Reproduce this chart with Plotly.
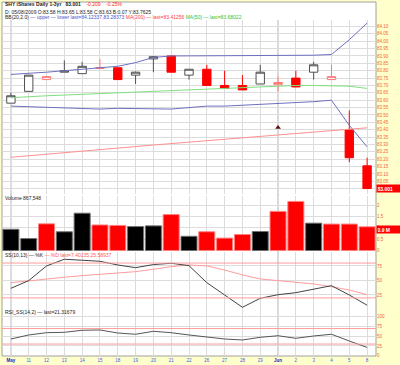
import plotly.graph_objects as go

# ---------------- data ----------------
day_labels = ["May", "11", "12", "13", "14", "15", "18", "19", "20", "21", "22",
              "26", "27", "28", "29", "Jun", "2", "3", "4", "5", "8"]

opens  = [83.58, 83.66, 83.74, 83.79, 83.78, 83.815, 83.82, 83.77, 83.88, 83.90, 83.77,
          83.81, 83.70, 83.70, 83.71, 83.705, 83.75, 83.79, 83.74, 83.40, 83.155]
highs  = [83.65, 83.77, 83.765, 83.87, 83.86, 83.88, 83.82, 83.795, 83.90, 83.90, 83.81,
          83.84, 83.80, 83.77, 83.84, 83.76, 83.80, 83.86, 83.84, 83.53, 83.21]
lows   = [83.58, 83.66, 83.74, 83.79, 83.78, 83.81, 83.74, 83.71, 83.79, 83.79, 83.74,
          83.70, 83.68, 83.67, 83.71, 83.66, 83.69, 83.74, 83.74, 83.18, 83.00]
closes = [83.63, 83.77, 83.76, 83.80, 83.83, 83.82, 83.74, 83.79, 83.895, 83.79, 83.81,
          83.70, 83.68, 83.67, 83.79, 83.72, 83.69, 83.84, 83.76, 83.21, 83.001]

bb_upper = [83.775, 83.78, 83.79, 83.80, 83.81, 83.82, 83.83, 83.855, 83.89, 83.90, 83.90,
            83.90, 83.90, 83.90, 83.90, 83.90, 83.90, 83.905, 83.91, 84.01, 84.123]
bb_lower = [83.56, 83.555, 83.55, 83.545, 83.54, 83.54, 83.545, 83.545, 83.54, 83.54, 83.55,
            83.56, 83.56, 83.565, 83.57, 83.575, 83.58, 83.59, 83.60, 83.43, 83.284]
ma50     = [83.617, 83.625, 83.63, 83.635, 83.64, 83.645, 83.65, 83.655, 83.66, 83.665, 83.672,
            83.68, 83.685, 83.69, 83.695, 83.697, 83.70, 83.70, 83.70, 83.695, 83.68]
ma200    = [83.213, 83.224, 83.235, 83.246, 83.256, 83.266, 83.276, 83.286, 83.296, 83.306, 83.316,
            83.326, 83.336, 83.346, 83.356, 83.366, 83.376, 83.386, 83.396, 83.405, 83.413]

marker_day = [15]
marker_price = [83.415]

volume_m = [0.94, 0.53, 1.18, 0.83, 1.65, 1.13, 1.11, 1.06, 1.09, 1.59, 0.63,
            0.83, 0.55, 0.71, 0.84, 1.73, 2.17, 1.21, 1.17, 1.17, 1.05]
volume_tag_level = 0.94

stoch_k = [36.5, 49.7, 75.0, 86.5, 84.8, 83.0, 76.7, 72.0, 77.3, 79.6, 75.5,
           46.2, 25.0, 3.8, 19.3, 25.5, 29.0, 35.3, 41.0, 25.0, 7.4]
stoch_d = [46.2, 49.7, 52.0, 55.5, 58.3, 60.7, 62.4, 65.2, 69.3, 73.8, 76.7,
           75.0, 68.0, 59.5, 52.6, 49.7, 48.0, 44.0, 39.3, 33.6, 25.6]
rsi = [43.0, 53.4, 59.3, 60.3, 65.5, 66.3, 58.5, 55.2, 62.9, 59.3, 53.4,
       48.2, 43.0, 40.5, 47.4, 51.5, 44.8, 50.8, 55.2, 37.9, 21.3]

price_ticks = [83.00 + 0.05 * k for k in range(23)]
price_tick_text = [""] + ["%.2f" % v for v in price_ticks[1:]]
vol_ticks = [0, 0.5, 1, 1.5, 2]
vol_tick_text = ["0", "0.5", "1", "1.5", "2"]
osc_ticks = [25, 50, 75]
rsi_ticks = [0, 25, 50, 75, 100]

# ---------------- styling ----------------
FONT = "Liberation Sans, Arial, sans-serif"
AXIS_COL = "#F0663C"
GRID = "#DCDCDC"
RED = "#FF0000"
PINK = "#FF7A7A"
DARK = "#505050"
BB_COL = "#6F6FC0"

idx = list(range(len(day_labels)))

fig = go.Figure()

# candle groups
prev = [None] + closes[:-1]
groups = {}
for i in idx:
    hollow = closes[i] >= opens[i]
    up = prev[i] is None or closes[i] >= prev[i]
    groups.setdefault((hollow, up), []).append(i)

for (hollow, up), members in groups.items():
    col = DARK if up else (PINK if hollow else RED)
    fill = "white" if hollow else (RED if not up else "#000000")
    fig.add_trace(go.Candlestick(
        x=members,
        open=[opens[i] for i in members], high=[highs[i] for i in members],
        low=[lows[i] for i in members], close=[closes[i] for i in members],
        increasing=dict(line=dict(color=col, width=1), fillcolor=fill),
        decreasing=dict(line=dict(color=col, width=1), fillcolor=fill),
        whiskerwidth=0, showlegend=False, hoverinfo="skip", xaxis="x", yaxis="y"))

fig.add_trace(go.Scatter(x=idx, y=bb_upper, mode="lines", line=dict(color=BB_COL, width=1),
                         showlegend=False, xaxis="x", yaxis="y"))
fig.add_trace(go.Scatter(x=idx, y=bb_lower, mode="lines", line=dict(color=BB_COL, width=1),
                         showlegend=False, xaxis="x", yaxis="y"))
fig.add_trace(go.Scatter(x=idx, y=ma50, mode="lines", line=dict(color="#7FE07F", width=1),
                         showlegend=False, xaxis="x", yaxis="y"))
fig.add_trace(go.Scatter(x=idx, y=ma200, mode="lines", line=dict(color="#FF9090", width=1),
                         showlegend=False, xaxis="x", yaxis="y"))
fig.add_trace(go.Scatter(x=marker_day, y=marker_price, mode="markers",
                         marker=dict(symbol="triangle-up", size=5, color="#5A1010"),
                         showlegend=False, xaxis="x", yaxis="y"))

vol_col = ["#000000" if (prev[i] is None or closes[i] >= prev[i]) else RED for i in idx]
vol_edge = ["#707070" if c == "#000000" else "#FF8080" for c in vol_col]
fig.add_trace(go.Bar(x=idx, y=volume_m, width=0.9,
                     marker=dict(color=vol_col, line=dict(color=vol_edge, width=1)),
                     showlegend=False, xaxis="x2", yaxis="y2"))

fig.add_trace(go.Scatter(x=idx, y=stoch_d, mode="lines", line=dict(color="#FF9C9C", width=1),
                         showlegend=False, xaxis="x3", yaxis="y3"))
fig.add_trace(go.Scatter(x=idx, y=stoch_k, mode="lines", line=dict(color="#444444", width=1),
                         showlegend=False, xaxis="x3", yaxis="y3"))
fig.add_trace(go.Scatter(x=idx, y=rsi, mode="lines", line=dict(color="#555555", width=1),
                         showlegend=False, xaxis="x4", yaxis="y4"))

# ---------------- layout ----------------
xcommon = dict(range=[-0.5, len(idx) - 0.5], tickvals=idx, showgrid=True, gridcolor=GRID,
               gridwidth=1, zeroline=False, showline=False, ticks="", fixedrange=True)
ycommon = dict(side="right", showgrid=True, gridcolor=GRID, zeroline=False, ticks="",
               showline=False, fixedrange=True,
               tickfont=dict(size=4.5, color=AXIS_COL, family=FONT))

tick_text = [("<b><span style='color:#1A1ACC'>%s</span></b>" % l) if not l.isdigit() else l
             for l in day_labels]

fig.update_layout(
    width=400, height=365,
    margin=dict(l=2, r=24, t=2, b=9),
    paper_bgcolor="#FFFFCC", plot_bgcolor="white",
    font=dict(family=FONT, size=5, color="#222222"),
    boxgap=0.33,
    hovermode=False,
    xaxis=dict(xcommon, anchor="y", domain=[0, 1], showticklabels=False,
               rangeslider=dict(visible=False)),
    xaxis2=dict(xcommon, anchor="y2", domain=[0, 1], matches="x", showticklabels=False),
    xaxis3=dict(xcommon, anchor="y3", domain=[0, 1], matches="x", showticklabels=False),
    xaxis4=dict(xcommon, anchor="y4", domain=[0, 1], matches="x", showticklabels=True,
                ticktext=tick_text, tickfont=dict(size=4.5, color="#3B5BE8", family=FONT),
                ticklabelstandoff=0),
    yaxis=dict(ycommon, domain=[0.4576, 0.9492], range=[82.964, 84.144],
               tickvals=price_ticks, ticktext=price_tick_text),
    yaxis2=dict(ycommon, domain=[0.2966, 0.4520], range=[-0.02, 2.41],
                tickvals=vol_ticks, ticktext=vol_tick_text),
    yaxis3=dict(ycommon, domain=[0.1328, 0.2938], range=[0.9, 99], tickvals=osc_ticks),
    yaxis4=dict(ycommon, domain=[0, 0.1328], range=[-0.8, 120.4], tickvals=rsi_ticks),
    showlegend=False,
)

shapes = [dict(type="rect", xref="paper", yref="paper", x0=0, x1=1, y0=0, y1=1,
               fillcolor="white", line=dict(color="#A0A0A0", width=1), layer="below")]
for i, l in enumerate(day_labels):
    if not l.isdigit():
        shapes.append(dict(type="line", xref="x", yref="paper", x0=i, x1=i, y0=0, y1=0.9492,
                           line=dict(color="#A8A8A8", width=1), layer="below"))
for yv in (80, 20):
    shapes.append(dict(type="line", xref="x3 domain", yref="y3", x0=0, x1=1, y0=yv, y1=yv,
                       line=dict(color="#FF9C9C", width=1)))
for yv in (70, 30):
    shapes.append(dict(type="line", xref="x4 domain", yref="y4", x0=0, x1=1, y0=yv, y1=yv,
                       line=dict(color="#FF9C9C", width=1)))
fig.update_layout(shapes=shapes)

def txt(x, y, text, **kw):
    d = dict(xref="paper", yref="paper", x=x, y=y, text=text, showarrow=False,
             xanchor="left", yanchor="middle", font=dict(size=5, family=FONT, color="#222222"))
    d.update(kw)
    return d

annotations = [
    txt(0.002, 0.993, "<b>SHY iShares Daily 1-3yr   83.001</b>    "
        "<span style='color:#FF2020'>-0.209    -0.25%</span>"),
    txt(0.002, 0.973, "D: 05/08/2009 O:83.58 H:83.65 L:83.58 C:83.63 B:0.07 Y:83.7625"),
    txt(0.002, 0.958, "BB(20,2.0) <span style='color:#4F4FC8'>— upper — lower "
        "last=84.12337,83.28373</span> <span style='color:#FF4040'>MA(200) — last=83.41256</span> "
        "<span style='color:#33C033'>MA(50) — last=83.68022</span>"),
    txt(0.002, 0.4477, "Volume 867,548"),
    txt(0.002, 0.2867, "SS(10,13) — %K <span style='color:#FF5A5A'>— %D last=7.40135,25.58937</span>"),
    txt(0.002, 0.1243, "RSI_SS(14,2) — last=21.31679"),
    dict(xref="paper", yref="y", x=1.0, y=closes[-1], text="<b>%.3f</b>" % closes[-1],
         showarrow=False, xanchor="left", yanchor="middle", bgcolor=RED, borderpad=0.5,
         width=22, align="left", font=dict(size=5, color="white", family=FONT)),
    dict(xref="paper", yref="y2", x=1.0, y=volume_tag_level, text="<b>0.9 M</b>",
         showarrow=False, xanchor="left", yanchor="middle", bgcolor=RED, borderpad=0.5,
         width=22, align="left", font=dict(size=5, color="white", family=FONT)),
]
fig.update_layout(annotations=annotations)

fig.write_html("out.html", config={"displayModeBar": False, "staticPlot": True},
               post_script="document.body.style.margin='0';document.body.style.overflow='hidden';")
